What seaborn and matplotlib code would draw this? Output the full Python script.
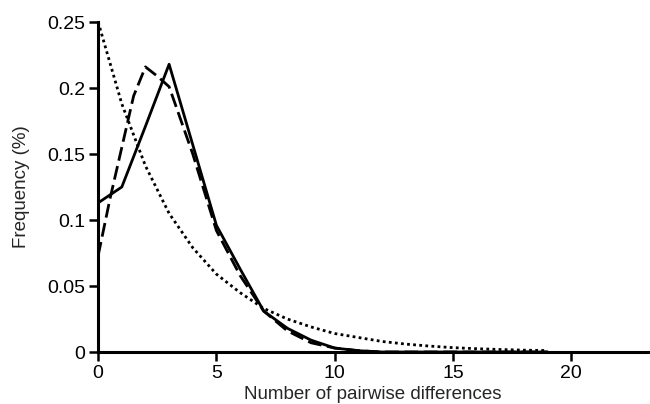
import matplotlib
matplotlib.use("Agg")
import matplotlib.pyplot as plt
import seaborn as sns
import pandas as pd

# Observed (solid)
obs_x = [0, 1, 2, 3, 4, 5, 6, 7, 8, 9, 10, 11, 12, 13, 14, 15, 16, 17, 18, 19]
obs_y = [0.113, 0.125, 0.171, 0.218, 0.157, 0.096, 0.063, 0.031, 0.018, 0.009,
         0.003, 0.001, 0.0, 0.0, 0.0, 0.0, 0.0, 0.0, 0.0, 0.0]

# Expected, sudden expansion (dashed)
exp_x = [0, 0.5, 1, 1.5, 2, 2.5, 3, 4, 5, 6, 7, 8, 9, 10, 11, 12, 13, 14, 15, 16, 17, 18, 19]
exp_y = [0.073, 0.116, 0.155, 0.194, 0.216, 0.209, 0.201, 0.150, 0.092, 0.058, 0.031,
         0.016, 0.007, 0.003, 0.001, 0.0, 0.0, 0.0, 0.0, 0.0, 0.0, 0.0, 0.0]

# Expected, constant population (dotted)
con_x = [0, 1, 2, 3, 4, 5, 6, 7, 8, 9, 10, 11, 12, 13, 14, 15, 16, 17, 18, 19]
con_y = [0.250, 0.188, 0.141, 0.105, 0.079, 0.059, 0.045, 0.033, 0.025, 0.019,
         0.014, 0.011, 0.008, 0.006, 0.0045, 0.0033, 0.0025, 0.0019, 0.0014, 0.0011]

x_ticks = [0, 5, 10, 15, 20]
y_ticks = [0, 0.05, 0.1, 0.15, 0.2, 0.25]
y_tick_labels = ["0", "0.05", "0.1", "0.15", "0.2", "0.25"]

sns.set_style("ticks")
plt.rcParams["font.family"] = ["Liberation Sans", "DejaVu Sans"]

fig, ax = plt.subplots(figsize=(6.5, 4.04), dpi=100)
fig.subplots_adjust(left=0.151, right=0.997, bottom=0.1287, top=0.9455)

df_obs = pd.DataFrame({"x": obs_x, "y": obs_y})
df_exp = pd.DataFrame({"x": exp_x, "y": exp_y})
df_con = pd.DataFrame({"x": con_x, "y": con_y})

sns.lineplot(data=df_con, x="x", y="y", ax=ax, color="black", lw=2.0,
             linestyle=(0, (1, 1.2)))
sns.lineplot(data=df_exp, x="x", y="y", ax=ax, color="black", lw=2.0,
             linestyle=(0, (5, 2)))
sns.lineplot(data=df_obs, x="x", y="y", ax=ax, color="black", lw=2.0)

ax.set_xlim(0, 23.25)
ax.set_ylim(0, 0.25)
ax.set_xticks(x_ticks)
ax.set_xticklabels([str(t) for t in x_ticks])
ax.set_yticks(y_ticks)
ax.set_yticklabels(y_tick_labels)
ax.set_xlabel("Number of pairwise differences", fontsize=13.5, labelpad=3)
ax.set_ylabel("Frequency (%)", fontsize=13.5, labelpad=12)
ax.tick_params(labelsize=14, width=1.8, length=6.5, pad=3, color="black", labelcolor="black")
for s in ["left", "bottom"]:
    ax.spines[s].set_linewidth(2.2)
    ax.spines[s].set_color("black")
sns.despine(ax=ax)

fig.savefig("out.png", dpi=100)
